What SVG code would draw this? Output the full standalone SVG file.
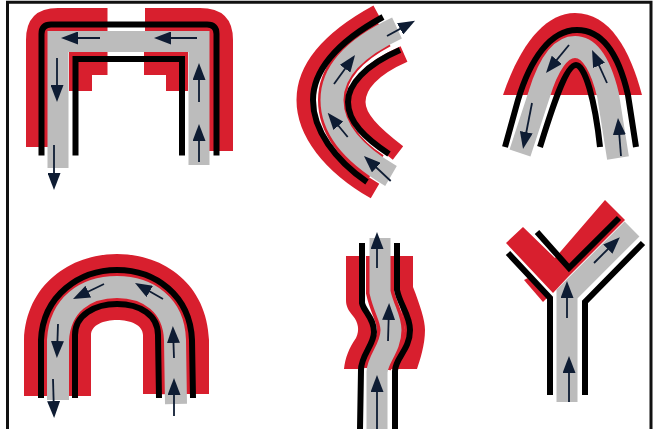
<svg xmlns="http://www.w3.org/2000/svg" width="656" height="429" viewBox="0 0 656 429">
<style>
.red{fill:#d81f2e;stroke:none}
.rs{fill:none;stroke:#d81f2e;stroke-width:17}
.ul{fill:none;stroke:#d81f2e;stroke-width:28}
.gray{fill:none;stroke:#bcbcbc;stroke-width:21;stroke-linejoin:miter}
.blk{fill:none;stroke:#000;stroke-width:6;stroke-linejoin:miter}
.ar{fill:none;stroke:#0e1c33;stroke-width:1.8;marker-end:url(#h)}
</style>
<defs>
<marker id="h" markerUnits="userSpaceOnUse" markerWidth="17" markerHeight="13" viewBox="0 0 17 13" refX="13" refY="6.5" orient="auto"><path d="M0,0L17,6.5L0,13Z" fill="#0e1c33"/></marker>
</defs>
<rect width="656" height="429" fill="#fff"/>
<path id="frame" d="M7.5,429V2.2H651V429" fill="none" stroke="#111" stroke-width="3"/>
<g id="bend-square">
<path class="red" d="M26,147V40Q26,8 58,8H107.5V31H48V147Z"/>
<path class="red" d="M145,8H200Q233,8 233,40V151H209V31H145Z"/>
<path class="red" d="M69,52H107.5V75H92V91H69Z"/>
<path class="red" d="M144,52H188V91H166V75H144Z"/>
<path class="gray" d="M58,168V41.5H199V165"/>
<path class="blk" d="M41.5,155.5V34Q41.5,24.5 51,24.5H207Q216.5,24.5 216.5,34V155.5"/>
<path class="blk" d="M75.5,155.5V59H182V155.5"/>
</g>
<g id="bend-arc">
<path class="rs" d="M377.5,13C328,40 305,70 305,100C305,132 330,165 375,191"/>
<path class="rs" d="M404,54C372,68 357,85 357,102C357,118 372,133 398,153"/>
<path class="ul" d="M384,34C350,52 332,75 332,100C332,127 350,150 376,167"/>
<path class="gray" d="M397,28C350,50 332,75 332,100C332,130 355,155 391,176" style="stroke-width:23"/>
<path class="blk" d="M383,17C335,43 313,72 313,100C313,130 335,160 367,182"/>
<path class="blk" d="M400,50C365,65 348,85 348,102C348,122 365,138 389,154"/>
</g>
<g id="bend-dome">
<path class="red" d="M503,95C520,45 545,13 575,13C610,13 630,50 642,95Z"/>
<path class="gray" d="M520,153L539,95C548,65 560,47 575,47C592,47 602,70 608,95L618,158" style="stroke-width:22"/>
<path class="blk" d="M505,147L518,100C530,60 550,30 577,30C605,30 620,60 628,95L636,147"/>
<path class="blk" d="M540,147C550,115 565,65 576,65C585,65 595,100 600,147"/>
</g>
<g id="bend-arch">
<path class="red" d="M24,396V340C26,285 70,254 117,254C165,254 207,285 209,340V394H143V335C143,325 130,320 117,320C104,320 91,325 91,335V396Z"/>
<path class="ul" d="M58,396V340C60,305 85,287 117,287C148,287 174,305 175,340L176,394"/>
<path class="gray" d="M58,400V340C60,305 85,287 117,287C148,287 174,305 175,340L176,404" style="stroke-width:22"/>
<path class="blk" d="M41,398V340C43,295 80,270 117,270C155,270 190,295 192,340L193,398"/>
<path class="blk" d="M75,398V335C75,315 95,304 117,304C140,304 158,315 158,335L159,398"/>
</g>
<g id="bend-wave">
<path class="red" d="M346,256H362V303L373,322L372,342L362,360L361,369H344C345,358 349,348 356,338C360,330 358,322 353,316C348,310 346,306 346,300Z"/>
<path class="red" d="M397,256H413V287C420,305 425,320 425,330C425,345 420,360 417,369H390L405,330L397,290Z"/>
<path class="ul" d="M380,256V292C384,310 391,318 391,330C391,348 378,358 377,369"/>
<path class="gray" d="M380,238V292C384,310 391,318 391,330C391,348 378,358 377,372V429"/>
<path class="blk" d="M362,243V303C364,312 374,318 374,332C374,345 361,355 361,370L360,429"/>
<path class="blk" d="M397,243V290C400,305 410,315 410,330C410,350 395,358 395,371V429"/>
</g>
<g id="bend-y">
<path class="gray" d="M567,402V294L632,229"/>
<path class="red" d="M523,227L555,258L605,200L625,220L568,277L553,293L506,243Z"/>
<path class="red" d="M524,280L528,278L547,298L543,302Z"/>
<path class="blk" d="M550,395V298L508,253"/>
<path class="blk" d="M585,395V302L643,243"/>
<path class="blk" d="M537,232L569,268L619,218"/>
</g>
<g id="connectors">
<path class="ar" d="M100,38H65"/><path class="ar" d="M197,38H158"/><path class="ar" d="M57,58V98"/><path class="ar" d="M54,145V186"/><path class="ar" d="M199,102V67"/><path class="ar" d="M199,162V128"/>
<path class="ar" d="M387,36L411.5,22.6"/><path class="ar" d="M334,84L352.7,58.2"/><path class="ar" d="M347.7,137L330.2,115.8"/><path class="ar" d="M390.7,181L366.9,158.7"/>
<path class="ar" d="M569,45L548.5,69.9"/><path class="ar" d="M607,83L593.7,53.6"/><path class="ar" d="M532,103L523.8,145"/><path class="ar" d="M621,156L618.3,122"/>
<path class="ar" d="M104,284L76.6,297.3"/><path class="ar" d="M163,299L138.5,285"/><path class="ar" d="M58,324L57,354"/><path class="ar" d="M53,379L54,414"/><path class="ar" d="M174,358L173,330"/><path class="ar" d="M174,416V382"/>
<path class="ar" d="M377,268V236"/><path class="ar" d="M388,341L389,307"/><path class="ar" d="M377,429V379"/>
<path class="ar" d="M567,318V285"/><path class="ar" d="M594,263L617,240"/><path class="ar" d="M569,402V360"/>
</g>
</svg>
